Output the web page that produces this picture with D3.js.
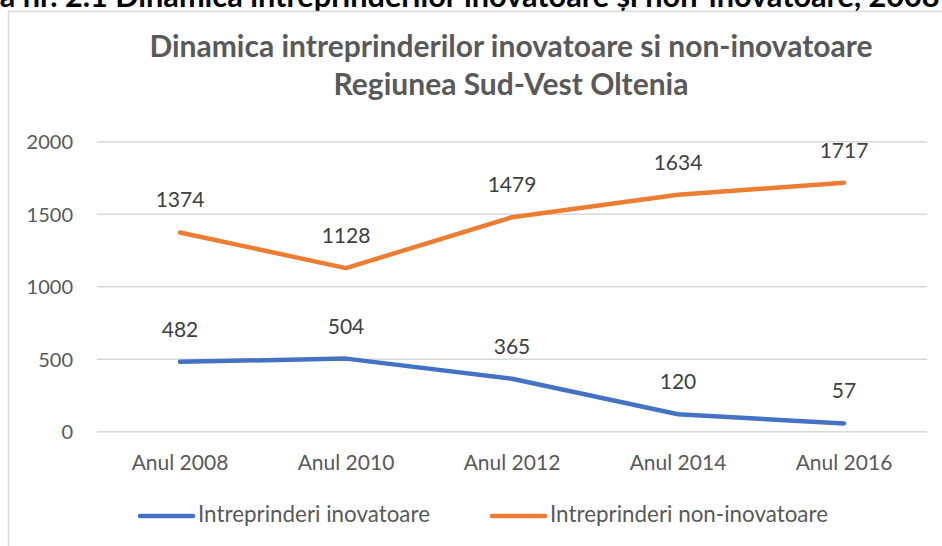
<!DOCTYPE html>
<html>
<head>
<meta charset="utf-8">
<script src="https://cdn.jsdelivr.net/npm/d3@7"></script>
<style>
  html, body { margin: 0; padding: 0; background: #fff; }
  svg { display: block; }
  text { font-family: Lato, "Noto Sans", sans-serif; }
</style>
</head>
<body>
<svg id="chart" width="942" height="546"></svg>
<script>
// Years on the category axis
const categories = ["Anul 2008", "Anul 2010", "Anul 2012", "Anul 2014", "Anul 2016"];
// Number of enterprises per series
const inovatoare = [482, 504, 365, 120, 57];
const nonInovatoare = [1374, 1128, 1479, 1634, 1717];
const seriesNames = ["Intreprinderi inovatoare", "Intreprinderi non-inovatoare"];
const yTicks = [0, 500, 1000, 1500, 2000];

const titleLines = ["Dinamica intreprinderilor inovatoare si non-inovatoare", "Regiunea Sud-Vest Oltenia"];
const captionText = "Figura nr. 2.1 Dinamica intreprinderilor inovatoare și non-inovatoare, 2008-2016";

const svg = d3.select("#chart");
const W = 942, H = 546;

const textGrey = "#595959";
const colors = ["#4472C4", "#ED7D31"];

// Figure caption above the chart frame; the page starts just below its upper half.
// Size it so that the span "a nr. ... 2008" runs across the page width.
function measure(str, size) {
  const t = svg.append("text").attr("font-weight", "bold").attr("font-size", size).text(str);
  const w = t.node().getComputedTextLength();
  t.remove();
  return w;
}
const headW = measure("Figur", 100);
const spanW = measure("Figura nr. 2.1 Dinamica intreprinderilor inovatoare și non-inovatoare, 2008", 100) - headW;
const capSize = 100 * 940 / spanW;
svg.append("text")
  .attr("x", -headW * capSize / 100)
  .attr("y", 7)
  .attr("font-weight", "bold")
  .attr("font-size", capSize)
  .attr("fill", "#000")
  .text(captionText);

// Chart frame
svg.append("rect")
  .attr("x", 8.5).attr("y", 11.5)
  .attr("width", W + 20).attr("height", H + 20)
  .attr("fill", "#fff")
  .attr("stroke", "#d9d9d9")
  .attr("stroke-width", 1.5);

// Title
svg.append("g").selectAll("text")
  .data(titleLines)
  .join("text")
  .attr("x", 511)
  .attr("y", (d, i) => 57 + i * 38)
  .attr("text-anchor", "middle")
  .attr("font-weight", "bold")
  .attr("font-size", 30)
  .attr("fill", textGrey)
  .text(d => d);

const x = d3.scaleBand().domain(categories).range([97, 927]);
const y = d3.scaleLinear().domain([0, 2000]).range([431.7, 141.7]);

// Gridlines
svg.append("g").selectAll("line")
  .data(yTicks)
  .join("line")
  .attr("x1", 97).attr("x2", 927)
  .attr("y1", d => y(d)).attr("y2", d => y(d))
  .attr("stroke", "#d9d9d9")
  .attr("stroke-width", 1.5);

// Y axis labels
const yAxis = svg.append("g")
  .attr("transform", "translate(84,0)")
  .call(d3.axisLeft(y).tickValues(yTicks).tickSize(0).tickPadding(0).tickFormat(d3.format("d")));
yAxis.select(".domain").remove();
yAxis.selectAll("text")
  .attr("font-family", "Lato, 'Noto Sans', sans-serif")
  .attr("font-size", 20)
  .attr("fill", textGrey)
  .attr("dy", "0.35em")
  .attr("x", -11);

// X axis labels
const xAxis = svg.append("g")
  .attr("transform", "translate(0,470)")
  .call(d3.axisBottom(x).tickSize(0).tickPadding(0));
xAxis.select(".domain").remove();
xAxis.selectAll("text")
  .attr("font-family", "Lato, 'Noto Sans', sans-serif")
  .attr("font-size", 21)
  .attr("fill", textGrey)
  .attr("y", 0)
  .attr("dy", 0);

const series = [inovatoare, nonInovatoare];
const line = d3.line()
  .x((d, i) => x(categories[i]) + x.bandwidth() / 2)
  .y(d => y(d));

series.forEach((vals, s) => {
  svg.append("path")
    .datum(vals)
    .attr("d", line)
    .attr("fill", "none")
    .attr("stroke", colors[s])
    .attr("stroke-width", 4.5)
    .attr("stroke-linecap", "round")
    .attr("stroke-linejoin", "round");

  svg.append("g").selectAll("text")
    .data(vals)
    .join("text")
    .attr("x", (d, i) => x(categories[i]) + x.bandwidth() / 2)
    .attr("y", d => y(d) - 25)
    .attr("text-anchor", "middle")
    .attr("font-size", 21)
    .attr("fill", "#404040")
    .text(d => d);
});

// Legend
const legendX = [138, 490];
const legend = svg.append("g").selectAll("g")
  .data(seriesNames)
  .join("g")
  .attr("transform", (d, i) => `translate(${legendX[i]},516)`);
legend.append("line")
  .attr("x1", 2).attr("x2", 55)
  .attr("stroke", (d, i) => colors[i])
  .attr("stroke-width", 4.5)
  .attr("stroke-linecap", "round");
legend.append("text")
  .attr("x", 60)
  .attr("y", 6)
  .attr("font-size", 22.4)
  .attr("fill", textGrey)
  .text(d => d);
</script>
</body>
</html>
